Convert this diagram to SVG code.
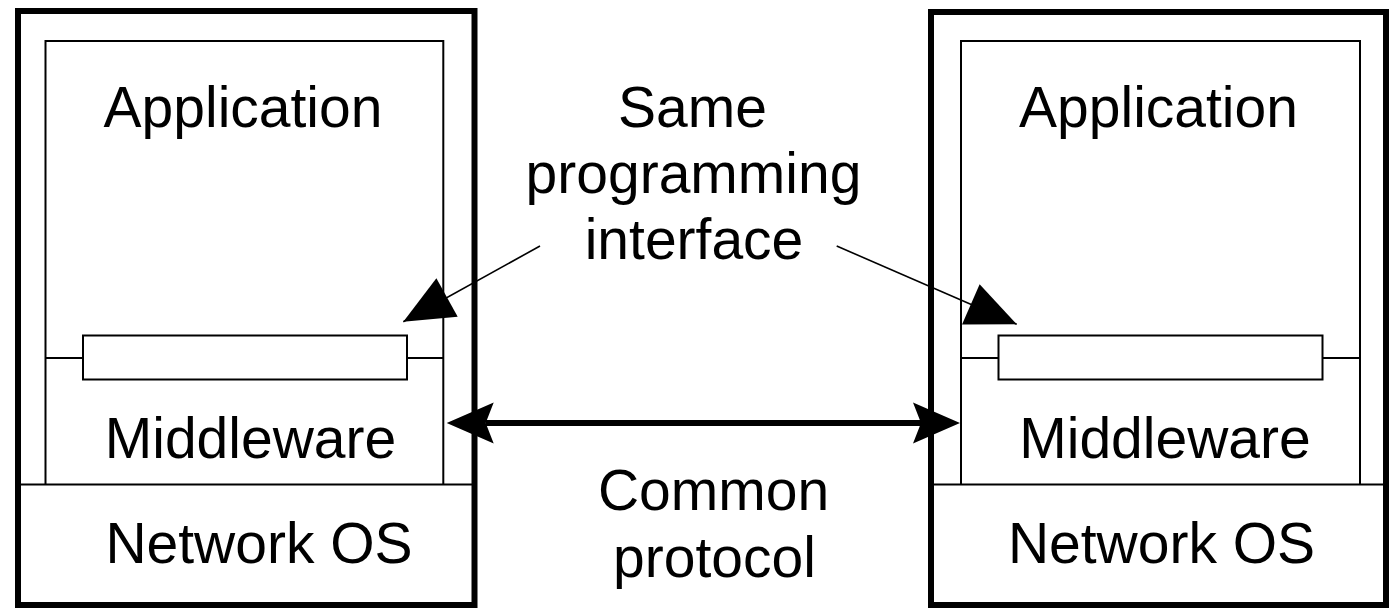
<svg xmlns="http://www.w3.org/2000/svg" width="1389" height="608" viewBox="0 0 1389 608">
<style>
.outer{fill:none;stroke:#000;stroke-width:6}
.thin{fill:none;stroke:#000;stroke-width:2}
.bar{fill:#fff;stroke:#000;stroke-width:2}
.ptr{fill:none;stroke:#000;stroke-width:1.6}
.proto{fill:none;stroke:#000;stroke-width:6}
text{font-family:"Liberation Sans",Arial,sans-serif;font-size:57px;fill:#000;text-anchor:middle}
</style>
<defs>
<marker id="ptrHead" markerUnits="userSpaceOnUse" orient="auto" refX="0" refY="0" markerWidth="60" markerHeight="50" overflow="visible">
<path d="M0,0 L-50,-22 L-50,22 Z" fill="#000"/>
</marker>
<marker id="protoHead" markerUnits="userSpaceOnUse" orient="auto-start-reverse" refX="0" refY="0" markerWidth="60" markerHeight="50" overflow="visible">
<path d="M39,0 L-8,-20.5 L0,0 L-8,20.5 Z" fill="#000"/>
</marker>
</defs>
<rect width="1389" height="608" fill="#fff"/>
<g id="left-host">
<rect class="outer" x="18" y="11" width="456.5" height="594"/>
<path class="thin" d="M45.5,484.5 V41 H443.3 V484.5"/>
<line class="thin" x1="18" y1="484.5" x2="474.5" y2="484.5"/>
<line class="thin" x1="45.5" y1="358" x2="83" y2="358"/>
<line class="thin" x1="407" y1="358" x2="443.3" y2="358"/>
<rect class="bar" x="83" y="335.5" width="324" height="44"/>
<text x="243" y="127">Application</text>
<text x="250.5" y="458">Middleware</text>
<text x="259" y="563">Network OS</text>
</g>
<g id="right-host">
<rect class="outer" x="931" y="12" width="455" height="593"/>
<path class="thin" d="M961,484.5 V41 H1360 V484.5"/>
<line class="thin" x1="931" y1="484.5" x2="1386" y2="484.5"/>
<line class="thin" x1="961" y1="358" x2="998.5" y2="358"/>
<line class="thin" x1="1322.5" y1="358" x2="1360" y2="358"/>
<rect class="bar" x="998.5" y="335.5" width="324" height="44"/>
<text x="1158.5" y="127">Application</text>
<text x="1165" y="458">Middleware</text>
<text x="1161.5" y="563">Network OS</text>
</g>
<g id="labels">
<text x="692.5" y="127">Same</text>
<text x="693.5" y="193">programming</text>
<text x="694" y="259">interface</text>
<text x="713.5" y="510">Common</text>
<text x="714.5" y="577">protocol</text>
</g>
<g id="connectors">
<line class="ptr" x1="540" y1="246" x2="403.3" y2="321.7" marker-end="url(#ptrHead)"/>
<line class="ptr" x1="836.7" y1="246" x2="1016.7" y2="324.3" marker-end="url(#ptrHead)"/>
<line class="proto" x1="485.7" y1="423" x2="921" y2="423" marker-start="url(#protoHead)" marker-end="url(#protoHead)"/>
</g>
</svg>
